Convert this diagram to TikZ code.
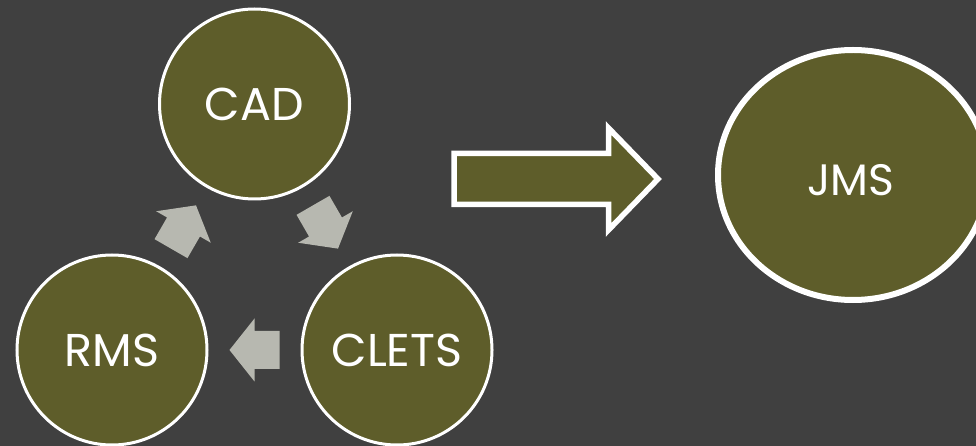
\documentclass[tikz,border=0pt]{standalone}
\usepackage{fontspec}
\setmainfont{Poppins}
\usetikzlibrary{calc,shapes.geometric}

\definecolor{slate}{HTML}{404040}
\definecolor{mossfill}{HTML}{5E5D2A}
\definecolor{pebble}{HTML}{B7B8B0}

\tikzset{
  stage/.style={circle, draw=white, line width=3pt, fill=mossfill,
    minimum size=190pt, inner sep=0pt, text=white,
    font=\fontsize{46}{46}\selectfont},
  goal/.style={ellipse, draw=white, line width=6pt, fill=mossfill,
    minimum width=270pt, minimum height=250pt, inner sep=0pt},
  goaltext/.style={text=white, inner sep=0pt, font=\fontsize{44}{44}\selectfont},
  bigarrow/.style={draw=white, line width=5.5pt, fill=mossfill, line join=miter},
  turnarrow/.pic={
    \fill[pebble] (-25,-19) -- (0,-19) -- (0,-31.5) -- (25,0)
      -- (0,31.5) -- (0,19) -- (-25,19) -- cycle;
  },
}

\begin{document}
\begin{tikzpicture}[x=1pt,y=-1pt]
  % backdrop
  \fill[slate] (0,0) rectangle (976,446);
  \useasboundingbox (0,0) rectangle (976,446);

  % the three systems of the cycle
  \node[stage] (cad)   at (254.5,104) {CAD};
  \node[stage] (rms)   at (112,350)   {RMS};
  \node[stage] (clets) at (397,350)   {CLETS};

  % arrows turning around the cycle
  \coordinate (hub) at (barycentric cs:cad=1,rms=1,clets=1);
  \pic[rotate=60]  at ($(hub)+(-71,-41)$) {turnarrow};
  \pic[rotate=-60] at ($(hub)+(71,-41)$)  {turnarrow};
  \pic[rotate=180] at ($(hub)+(0,82)$)    {turnarrow};

  % target system
  \node[goal] (jms) at (853,175) {};
  \node[goaltext] (jmslabel) at ($(jms.center)+(-2,5)$) {JMS};

  % block arrow towards the target
  \draw[bigarrow] (454,153.5) -- (608.5,153.5) -- (608.5,128) -- (658,179)
    -- (608.5,230) -- (608.5,204.5) -- (454,204.5) -- cycle;
\end{tikzpicture}
\end{document}
